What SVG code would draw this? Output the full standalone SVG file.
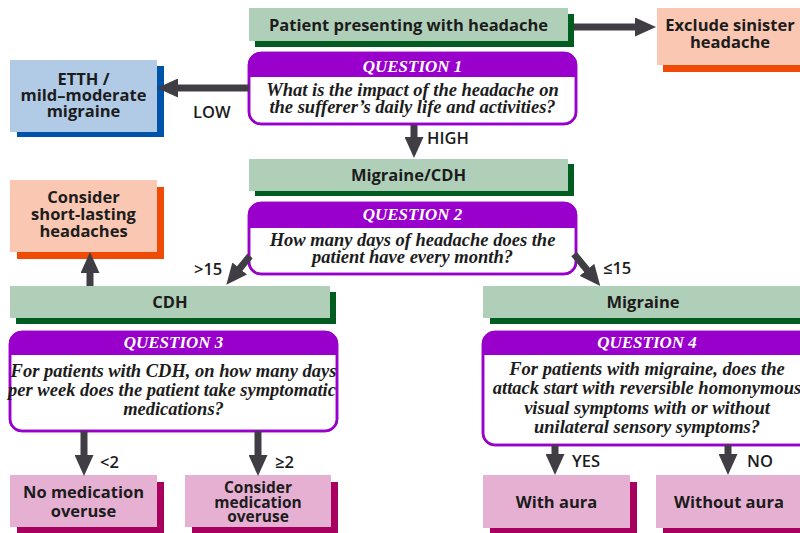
<svg xmlns="http://www.w3.org/2000/svg" width="800" height="533" viewBox="0 0 800 533">
  <defs>
    <marker id="ah" markerUnits="userSpaceOnUse" markerWidth="21" markerHeight="19" refX="8" refY="9.5" orient="auto">
      <path d="M0,0 L21,9.5 L0,19 Z" fill="#403e44"/>
    </marker>
  </defs>
  <style>
    .lbl { font-family: "Open Sans", "Liberation Sans", sans-serif; font-weight: 700; font-size: 16.5px; fill: #1c1c1c; text-anchor: middle; }
    .tight { font-size: 15.5px; }
    .qh { font-family: "Liberation Serif", serif; font-style: italic; font-weight: 700; font-size: 17px; fill: #ffffff; text-anchor: middle; }
    .qt { font-family: "Liberation Serif", serif; font-style: italic; font-weight: 700; font-size: 18.5px; fill: #1c1c1c; text-anchor: middle; }
    .el { font-family: "Open Sans", "Liberation Sans", sans-serif; font-weight: 600; font-size: 16.5px; fill: #1c1c1c; }
    .conn { stroke: #403e44; stroke-width: 7; fill: none; marker-end: url(#ah); }
    .g-main { fill: #b0cfb8; } .g-sh { fill: #005c1f; }
    .o-main { fill: #f9c7b2; } .o-sh { fill: #ef4b06; }
    .b-main { fill: #b1cbe7; } .b-sh { fill: #0053a8; }
    .p-main { fill: #e6b0d2; } .p-sh { fill: #a8005e; }
    .q-box { fill: #ffffff; stroke: #9900cc; stroke-width: 2.5; }
    .q-head { fill: #9900cc; }
    .q-edge { fill: none; stroke: #9900cc; stroke-width: 2.5; }
  </style>

  <!-- start -->
  <g id="patient">
    <rect class="g-sh" x="255" y="14" width="319" height="33"/>
    <rect class="g-main" x="249" y="8" width="319" height="33"/>
    <text class="lbl" x="408.5" y="31">Patient presenting with headache</text>
  </g>

  <g id="exclude">
    <rect class="o-sh" x="663" y="14" width="150" height="58"/>
    <rect class="o-main" x="657" y="8" width="150" height="57"/>
    <text class="lbl" x="730" y="31">Exclude sinister</text>
    <text class="lbl" x="730" y="48">headache</text>
  </g>

  <g id="q1">
    <rect class="q-box" x="249" y="53" width="327" height="71" rx="12"/>
    <path class="q-head" d="M249,77 V65 A12,12 0 0 1 261,53 H564 A12,12 0 0 1 576,65 V77 Z"/>
    <rect class="q-edge" x="249" y="53" width="327" height="71" rx="12"/>
    <text class="qh" x="412.5" y="72">QUESTION 1</text>
    <text class="qt" x="412.5" y="96">What is the impact of the headache on</text>
    <text class="qt" x="412.5" y="113">the sufferer’s daily life and activities?</text>
  </g>

  <g id="etth">
    <rect class="b-sh" x="17" y="66" width="147" height="71"/>
    <rect class="b-main" x="10" y="60" width="147" height="72"/>
    <text class="lbl" x="83.5" y="85">ETTH /</text>
    <text class="lbl" x="83.5" y="101">mild–moderate</text>
    <text class="lbl" x="83.5" y="117">migraine</text>
  </g>

  <g id="migraine-cdh">
    <rect class="g-sh" x="255" y="164" width="319" height="32"/>
    <rect class="g-main" x="249" y="159" width="319" height="32"/>
    <text class="lbl" x="408.5" y="181">Migraine/CDH</text>
  </g>

  <g id="q2">
    <rect class="q-box" x="249" y="203" width="327" height="71" rx="12"/>
    <path class="q-head" d="M249,228 V215 A12,12 0 0 1 261,203 H564 A12,12 0 0 1 576,215 V228 Z"/>
    <rect class="q-edge" x="249" y="203" width="327" height="71" rx="12"/>
    <text class="qh" x="412.5" y="220">QUESTION 2</text>
    <text class="qt" x="412.5" y="246">How many days of headache does the</text>
    <text class="qt" x="412.5" y="263">patient have every month?</text>
  </g>

  <g id="short-lasting">
    <rect class="o-sh" x="17" y="187" width="147" height="72"/>
    <rect class="o-main" x="10" y="180" width="147" height="72"/>
    <text class="lbl" x="83.5" y="203">Consider</text>
    <text class="lbl" x="83.5" y="220">short-lasting</text>
    <text class="lbl" x="83.5" y="237">headaches</text>
  </g>

  <g id="cdh">
    <rect class="g-sh" x="16" y="292" width="320" height="32"/>
    <rect class="g-main" x="10" y="286" width="320" height="32"/>
    <text class="lbl" x="170" y="308">CDH</text>
  </g>

  <g id="migraine">
    <rect class="g-sh" x="490" y="292" width="330" height="32"/>
    <rect class="g-main" x="483" y="286" width="330" height="32"/>
    <text class="lbl" x="643" y="308">Migraine</text>
  </g>

  <g id="q3">
    <rect class="q-box" x="10" y="332" width="327" height="99" rx="12"/>
    <path class="q-head" d="M10,355 V344 A12,12 0 0 1 22,332 H325 A12,12 0 0 1 337,344 V355 Z"/>
    <rect class="q-edge" x="10" y="332" width="327" height="99" rx="12"/>
    <text class="qh" x="173.5" y="348">QUESTION 3</text>
    <text class="qt" x="173.5" y="377">For patients with CDH, on how many days</text>
    <text class="qt" x="172" y="396">per week does the patient take symptomatic</text>
    <text class="qt" x="173.5" y="415">medications?</text>
  </g>

  <g id="q4">
    <rect class="q-box" x="483" y="332" width="328" height="113" rx="12"/>
    <path class="q-head" d="M483,355 V344 A12,12 0 0 1 495,332 H799 A12,12 0 0 1 811,344 V355 Z"/>
    <rect class="q-edge" x="483" y="332" width="328" height="113" rx="12"/>
    <text class="qh" x="647" y="348">QUESTION 4</text>
    <text class="qt" x="647" y="375">For patients with migraine, does the</text>
    <text class="qt" x="647" y="394">attack start with reversible homonymous</text>
    <text class="qt" x="647" y="414">visual symptoms with or without</text>
    <text class="qt" x="647" y="433">unilateral sensory symptoms?</text>
  </g>

  <g id="no-overuse">
    <rect class="p-sh" x="17" y="482" width="147" height="60"/>
    <rect class="p-main" x="10" y="475" width="147" height="52"/>
    <text class="lbl" x="83.5" y="498">No medication</text>
    <text class="lbl" x="83.5" y="517">overuse</text>
  </g>

  <g id="overuse">
    <rect class="p-sh" x="192" y="482" width="146" height="60"/>
    <rect class="p-main" x="185" y="475" width="146" height="52"/>
    <text class="lbl tight" x="258" y="493">Consider</text>
    <text class="lbl tight" x="258" y="508">medication</text>
    <text class="lbl tight" x="258" y="522">overuse</text>
  </g>

  <g id="with-aura">
    <rect class="p-sh" x="490" y="482" width="147" height="60"/>
    <rect class="p-main" x="483" y="475" width="147" height="53"/>
    <text class="lbl" x="556.5" y="508">With aura</text>
  </g>

  <g id="without-aura">
    <rect class="p-sh" x="663" y="482" width="150" height="60"/>
    <rect class="p-main" x="656" y="475" width="150" height="53"/>
    <text class="lbl" x="729" y="508">Without aura</text>
  </g>

  <!-- connectors and their labels -->
  <g id="connectors">
    <line class="conn" x1="574" y1="27" x2="643" y2="27"/>
    <line class="conn" x1="249" y1="88" x2="170" y2="88"/>
    <line class="conn" x1="414" y1="125" x2="414" y2="145"/>
    <line class="conn" x1="250" y1="256" x2="234.6" y2="274.7"/>
    <line class="conn" x1="574" y1="254" x2="592" y2="276"/>
    <line class="conn" x1="90" y1="286" x2="90" y2="265"/>
    <line class="conn" x1="84" y1="431" x2="84" y2="463"/>
    <line class="conn" x1="258" y1="431" x2="258" y2="463"/>
    <line class="conn" x1="555" y1="445" x2="555" y2="462"/>
    <line class="conn" x1="728" y1="445" x2="728" y2="462"/>

    <text class="el" x="193" y="118">LOW</text>
    <text class="el" x="427" y="144">HIGH</text>
    <text class="el" x="194" y="275">&gt;15</text>
    <text class="el" x="603" y="274">≤15</text>
    <text class="el" x="100" y="468">&lt;2</text>
    <text class="el" x="275" y="468">≥2</text>
    <text class="el" x="572" y="467">YES</text>
    <text class="el" x="747" y="467">NO</text>
  </g>
</svg>
